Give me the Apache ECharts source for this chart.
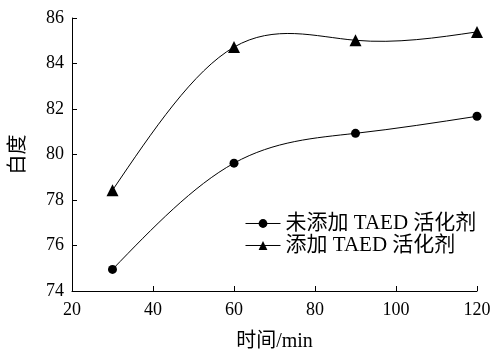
<!DOCTYPE html>
<html><head><meta charset="utf-8">
<script src="https://cdn.jsdelivr.net/npm/echarts@6/dist/echarts.min.js"></script>
<style>html,body{margin:0;padding:0;background:#fff}#c{width:492px;height:350px}</style>
</head><body><div id="c"></div>
<script>
const times = [30, 60, 90, 120];
const noActivator = [74.95, 79.62, 80.93, 81.68];
const withActivator = [78.43, 84.72, 85.02, 85.39];
const seriesNames = ['未添加 TAED 活化剂', '添加 TAED 活化剂'];
const font = '"Liberation Serif", "Noto Sans CJK SC", serif';
const chart = echarts.init(document.getElementById('c'));
const mk = (arr) => arr.map((v, i) => [times[i], v]);

// natural cubic spline slopes (rendering only; curve passes through the data)
function splineSlopes(xs, ys) {
  const n = xs.length;
  const h = [], a = [], b = [], c = [], d = [];
  for (let i = 0; i < n - 1; i++) h.push(xs[i + 1] - xs[i]);
  const M = new Array(n).fill(0);
  const m = n - 2;
  for (let i = 1; i <= m; i++) {
    a.push(h[i - 1]); b.push(2 * (h[i - 1] + h[i])); c.push(h[i]);
    d.push(6 * ((ys[i + 1] - ys[i]) / h[i] - (ys[i] - ys[i - 1]) / h[i - 1]));
  }
  for (let i = 1; i < m; i++) {
    const w = a[i] / b[i - 1];
    b[i] -= w * c[i - 1]; d[i] -= w * d[i - 1];
  }
  for (let i = m - 1; i >= 0; i--) {
    M[i + 1] = (d[i] - (i < m - 1 ? c[i] * M[i + 2] : 0)) / b[i];
  }
  const s = [];
  for (let i = 0; i < n; i++) {
    if (i < n - 1) s.push((ys[i + 1] - ys[i]) / h[i] - h[i] * (2 * M[i] + M[i + 1]) / 6);
    else s.push((ys[i] - ys[i - 1]) / h[i - 1] + h[i - 1] * (M[i - 1] + 2 * M[i]) / 6);
  }
  return s;
}

function curveSeries(vals) {
  return {
    type: 'custom', silent: true, clip: false, z: 1,
    data: [[times[0], vals[0]]],
    renderItem: function (params, api) {
      const s = splineSlopes(times, vals);
      let p = api.coord([times[0], vals[0]]);
      let path = 'M' + p[0] + ' ' + p[1];
      for (let i = 0; i < times.length - 1; i++) {
        const h = times[i + 1] - times[i];
        const c1 = api.coord([times[i] + h / 3, vals[i] + s[i] * h / 3]);
        const c2 = api.coord([times[i + 1] - h / 3, vals[i + 1] - s[i + 1] * h / 3]);
        const e = api.coord([times[i + 1], vals[i + 1]]);
        path += ' C' + c1[0] + ' ' + c1[1] + ' ' + c2[0] + ' ' + c2[1] + ' ' + e[0] + ' ' + e[1];
      }
      return {type: 'path', shape: {pathData: path},
              style: {fill: 'none', stroke: '#000', lineWidth: 1}};
    }
  };
}

chart.setOption({
  animation: false,
  textStyle: {fontFamily: font, color: '#000'},
  grid: {left: 72, right: 15, top: 18, bottom: 59, outerBoundsMode: 'none', containLabel: false},
  legend: {
    orient: 'vertical', left: 240, top: 208, itemGap: 1,
    itemWidth: 35, itemHeight: 11,
    lineStyle: {opacity: 1, color: '#000', width: 1},
    textStyle: {fontFamily: font, fontSize: 21, color: '#000'},
    data: seriesNames
  },
  xAxis: {
    type: 'value', min: 20, max: 120, interval: 20,
    name: '时间/min', nameLocation: 'middle', nameGap: 41,
    nameTextStyle: {fontFamily: font, fontSize: 20, color: '#000'},
    axisLine: {lineStyle: {color: '#000', width: 1}},
    axisTick: {inside: true, length: 5, lineStyle: {color: '#000'}},
    axisLabel: {fontFamily: font, fontSize: 18, color: '#000', margin: 10},
    splitLine: {show: false}
  },
  yAxis: {
    type: 'value', min: 74, max: 86, interval: 2,
    name: '白度', nameLocation: 'middle', nameGap: 43, nameRotate: 90,
    nameTextStyle: {fontFamily: font, fontSize: 20, color: '#000'},
    axisLine: {show: true, lineStyle: {color: '#000', width: 1}},
    axisTick: {show: true, inside: true, length: 5, lineStyle: {color: '#000'}},
    axisLabel: {fontFamily: font, fontSize: 18, color: '#000', margin: 8},
    splitLine: {show: false}
  },
  series: [
    {name: seriesNames[0], type: 'line', data: mk(noActivator), z: 3,
     symbol: 'circle', symbolSize: 9,
     lineStyle: {color: '#000', width: 1, opacity: 0}, itemStyle: {color: '#000'}},
    {name: seriesNames[1], type: 'line', data: mk(withActivator), z: 3,
     symbol: 'triangle', symbolSize: 12,
     lineStyle: {color: '#000', width: 1, opacity: 0}, itemStyle: {color: '#000'}},
    curveSeries(noActivator),
    curveSeries(withActivator)
  ]
});
</script></body></html>
